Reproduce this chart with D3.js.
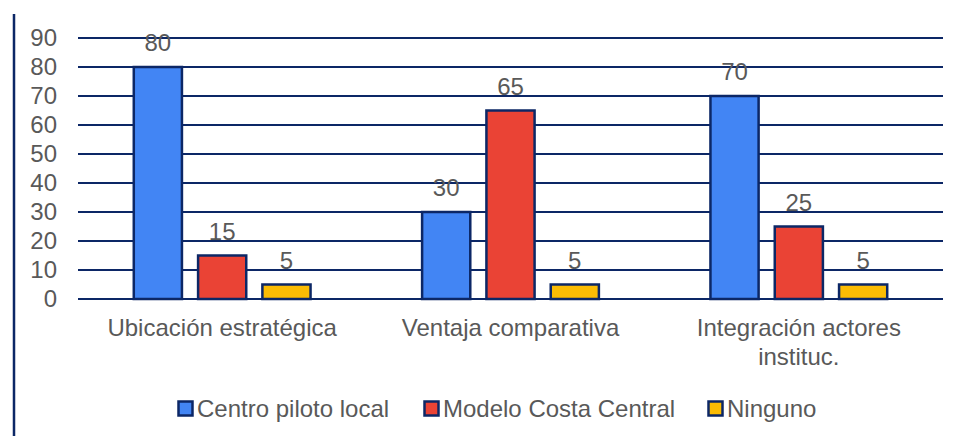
<!DOCTYPE html>
<html>
<head>
<meta charset="utf-8">
<script src="https://cdn.jsdelivr.net/npm/d3@7"></script>
<style>
  body { margin: 0; background: #fff; }
  text { font-family: "Liberation Sans", Arial, sans-serif; fill: #595959; }
</style>
</head>
<body>
<script>
// chart data
var categories = [["Ubicación estratégica"], ["Ventaja comparativa"], ["Integración actores", "instituc."]];
var series = ["Centro piloto local", "Modelo Costa Central", "Ninguno"];
var centroValues = [80, 30, 70];
var modeloValues = [15, 65, 25];
var ningunoValues = [5, 5, 5];
var yTicks = [0, 10, 20, 30, 40, 50, 60, 70, 80, 90];

var colors = ["#4285f4", "#ea4335", "#fbbc04"];
var navy = "#0c2766";

var width = 960, height = 436;
var svg = d3.select("body").append("svg")
    .attr("width", width)
    .attr("height", height);

var values = [centroValues, modeloValues, ningunoValues];
var groupIdx = d3.range(categories.length);

// scales
var x0 = d3.scaleBand().domain(groupIdx).range([78, 943])
    .paddingInner(0.38).paddingOuter(0.19);
var x1 = d3.scaleBand().domain(d3.range(series.length)).range([0, x0.bandwidth()])
    .paddingInner(0.22);
var y = d3.scaleLinear().domain([0, 90]).range([299, 38]);

// left border line
svg.append("line")
    .attr("x1", 14).attr("x2", 14)
    .attr("y1", 14).attr("y2", height)
    .attr("stroke", navy).attr("stroke-width", 2.5);

// gridlines
svg.append("g").selectAll("line")
    .data(yTicks)
    .join("line")
    .attr("x1", 78).attr("x2", 943)
    .attr("y1", function(d){ return y(d); })
    .attr("y2", function(d){ return y(d); })
    .attr("stroke", navy).attr("stroke-width", 2.2);

// y tick labels
svg.append("g").selectAll("text")
    .data(yTicks)
    .join("text")
    .attr("x", 57)
    .attr("y", function(d){ return y(d); })
    .attr("dy", "0.35em")
    .attr("text-anchor", "end")
    .style("font-size", "24px")
    .text(function(d){ return d; });

// bars
var groups = svg.append("g").selectAll("g")
    .data(groupIdx)
    .join("g")
    .attr("transform", function(i){ return "translate(" + x0(i) + ",0)"; });

groups.selectAll("rect")
    .data(function(i){ return values.map(function(v, s){ return {s: s, v: v[i]}; }); })
    .join("rect")
    .attr("x", function(d){ return x1(d.s) + 1; })
    .attr("width", x1.bandwidth() - 2)
    .attr("y", function(d){ return y(d.v); })
    .attr("height", function(d){ return y(0) - y(d.v); })
    .attr("fill", function(d){ return colors[d.s]; })
    .attr("stroke", navy)
    .attr("stroke-width", 2.5);

// value labels
groups.selectAll("text")
    .data(function(i){ return values.map(function(v, s){ return {s: s, v: v[i]}; }); })
    .join("text")
    .attr("x", function(d){ return x1(d.s) + x1.bandwidth() / 2; })
    .attr("y", function(d){ return y(d.v) - 16; })
    .attr("text-anchor", "middle")
    .style("font-size", "24px")
    .text(function(d){ return d.v; });

// category labels
svg.append("g").selectAll("text")
    .data(groupIdx)
    .join("text")
    .attr("x", function(i){ return x0(i) + x0.bandwidth() / 2; })
    .attr("y", 336)
    .attr("text-anchor", "middle")
    .style("font-size", "24px")
    .each(function(i){
        var t = d3.select(this);
        categories[i].forEach(function(line, k){
            t.append("tspan")
                .attr("x", x0(i) + x0.bandwidth() / 2)
                .attr("dy", k === 0 ? 0 : 29)
                .text(line);
        });
    });

// legend
var legendX = [177, 423, 707];
var legend = svg.append("g").selectAll("g")
    .data(series)
    .join("g")
    .attr("transform", function(d, i){ return "translate(" + legendX[i] + ",400)"; });

legend.append("rect")
    .attr("x", 1.5).attr("y", 1.5)
    .attr("width", 14).attr("height", 14)
    .attr("fill", function(d, i){ return colors[i]; })
    .attr("stroke", navy)
    .attr("stroke-width", 2.5);

legend.append("text")
    .attr("x", 20)
    .attr("y", 9)
    .attr("dy", "0.35em")
    .style("font-size", "24px")
    .text(function(d){ return d; });
</script>
</body>
</html>
